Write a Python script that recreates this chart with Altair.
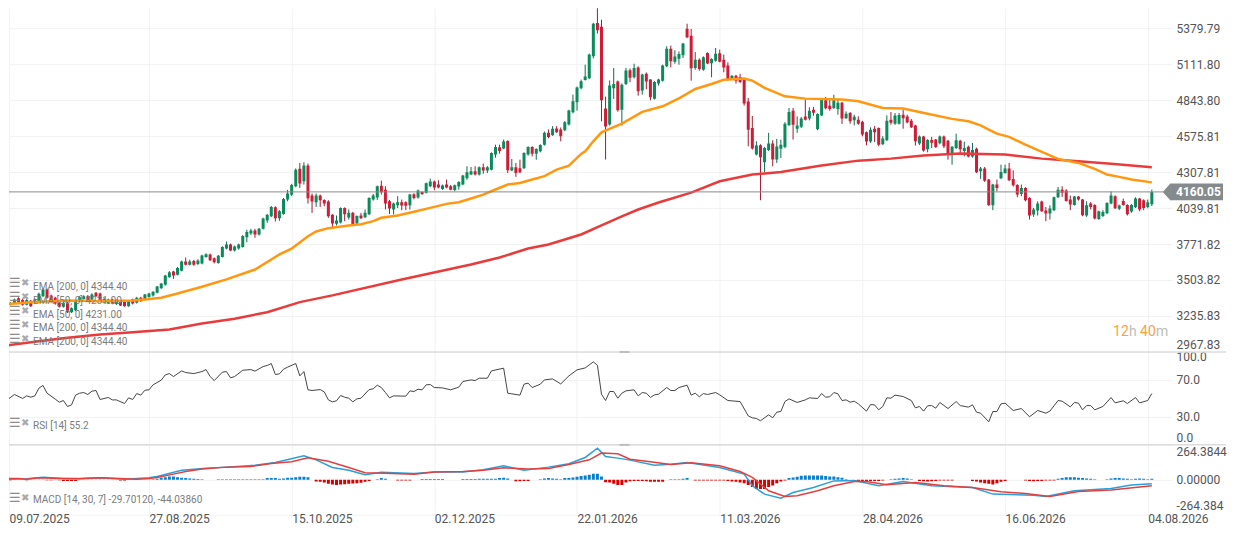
import altair as alt
import pandas as pd

# ---------- data ----------
opens = [
3290,3320,3330,3368,3354,3320,3349,3334,3346,3383,
3433,3388,3371,3334,3304,3334,3264,3279,3346,3363,
3383,3359,3408,3403,3334,3329,3359,3324,3339,3339,
3309,3359,3334,3371,3359,3378,3388,3408,3442,3468,
3527,3567,3542,3572,3641,3617,3646,3622,3626,3676,
3693,3666,3631,3676,3738,3768,3723,3738,3750,3822,
3850,3872,3842,3885,3947,3979,4046,3964,3996,4103,
4138,4202,4333,4240,4356,4133,4083,4133,4100,4088,
3989,3922,3932,4041,3969,4004,3924,3984,3971,3994,
4103,4118,4205,4177,4090,4029,4061,4083,4083,4061,
4143,4118,4160,4153,4202,4237,4215,4182,4215,4202,
4175,4200,4215,4262,4289,4314,4289,4344,4319,4326,
4438,4492,4483,4540,4319,4344,4336,4336,4438,4495,
4445,4463,4512,4600,4582,4632,4625,4619,4662,4753,
4828,4932,4994,5006,5170,5418,5391,4781,4662,4932,
4982,4773,4964,5066,5014,5086,4915,5041,4997,4855,
4967,4989,5096,5227,5130,5153,5178,5376,5324,5083,
5145,5071,5195,5118,5138,5193,5145,5101,5002,5026,
5016,5004,4833,4637,4438,4508,4381,4473,4520,4401,
4482,4495,4658,4765,4631,4646,4721,4706,4773,4626,
4730,4842,4802,4785,4778,4825,4708,4748,4693,4698,
4683,4604,4535,4631,4636,4515,4544,4698,4668,4668,
4735,4721,4691,4654,4520,4572,4477,4547,4550,4522,
4572,4542,4445,4488,4542,4465,4497,4423,4482,4314,
4334,4252,4061,4215,4262,4301,4334,4257,4212,4145,
4190,4115,3991,4021,4088,4021,3999,4024,4120,4177,
4170,4103,4063,4125,4103,3984,4073,4063,3959,3981,
4001,4073,4128,4034,4093,4063,4014,4048,4110,4098,4048,4068]
closes = [
3314,3333,3359,3338,3320,3354,3309,3359,3401,3433,
3371,3344,3329,3304,3334,3264,3294,3346,3376,3383,
3346,3396,3383,3354,3363,3359,3329,3354,3314,3309,
3346,3329,3371,3346,3396,3403,3416,3455,3477,3537,
3562,3537,3594,3641,3617,3641,3617,3649,3686,3696,
3651,3636,3684,3750,3768,3723,3753,3768,3832,3862,
3872,3842,3885,3961,3989,4048,3964,4016,4108,4148,
4212,4326,4222,4356,4113,4088,4133,4098,4073,3979,
3924,3947,4041,3994,4004,3920,3981,3964,4004,4115,
4133,4202,4158,4073,4036,4073,4083,4058,4056,4140,
4115,4170,4143,4225,4237,4192,4192,4207,4192,4177,
4210,4234,4282,4306,4314,4289,4344,4319,4344,4450,
4495,4465,4535,4321,4344,4301,4306,4450,4495,4445,
4480,4510,4600,4570,4630,4604,4575,4679,4766,4835,
4937,4984,5019,5183,5413,5364,4843,4647,4952,4964,
4768,4959,5064,5011,5083,4910,5034,4982,4865,4979,
4997,5101,5227,5133,5168,5188,5265,5312,5081,5145,
5076,5163,5116,5150,5190,5130,5086,5002,5026,4989,
4979,4818,4624,4483,4505,4418,4488,4520,4401,4498,
4512,4668,4755,4661,4654,4706,4698,4765,4750,4740,
4847,4783,4778,4842,4825,4706,4743,4686,4720,4668,
4587,4535,4624,4604,4512,4557,4691,4676,4730,4733,
4708,4678,4641,4537,4572,4468,4547,4527,4495,4572,
4500,4445,4497,4544,4477,4487,4423,4472,4306,4334,
4244,4061,4215,4190,4309,4334,4247,4210,4140,4190,
4098,3984,4029,4073,4016,3999,4036,4120,4177,4153,
4093,4066,4125,4103,3986,4061,4048,3962,4016,4011,
4078,4133,4038,4058,4063,3994,4063,4110,4029,4041,4083,4160]
highs = [
3322,3340,3365,3375,3362,3365,3355,3365,3410,3440,
3440,3395,3378,3340,3345,3340,3300,3352,3385,3390,
3392,3405,3415,3410,3370,3365,3365,3360,3345,3345,
3352,3365,3378,3378,3400,3408,3420,3460,3482,3542,
3570,3572,3600,3648,3671,3655,3654,3658,3692,3702,
3700,3672,3690,3755,3790,3775,3760,3775,3838,3878,
3885,3885,3892,3968,3995,4055,4053,4024,4115,4175,
4220,4335,4375,4381,4371,4148,4148,4140,4105,4098,
3995,3984,4045,4045,4029,4010,3985,4004,4029,4120,
4145,4207,4244,4202,4100,4080,4128,4103,4090,4145,
4150,4177,4165,4230,4259,4245,4247,4215,4252,4212,
4215,4240,4287,4351,4346,4351,4350,4371,4352,4455,
4512,4512,4550,4545,4405,4376,4400,4455,4500,4500,
4485,4515,4610,4625,4650,4650,4640,4688,4772,4885,
4945,4997,5108,5190,5420,5592,5443,4870,4990,5083,
4990,4968,5083,5080,5115,5095,5040,5050,5000,4985,
5003,5108,5245,5250,5215,5207,5270,5413,5374,5202,
5155,5170,5200,5155,5232,5220,5183,5125,5030,5032,
5040,5010,4860,4726,4537,4515,4495,4600,4545,4555,
4550,4680,4785,4785,4723,4718,4847,4790,4793,4745,
4852,4867,4847,4884,4847,4830,4760,4755,4735,4723,
4690,4610,4641,4650,4640,4575,4730,4755,4748,4748,
4773,4735,4703,4660,4580,4578,4552,4570,4555,4580,
4580,4548,4502,4594,4548,4534,4505,4525,4490,4346,
4346,4257,4220,4252,4363,4363,4376,4321,4218,4215,
4195,4120,4041,4090,4095,4048,4060,4125,4197,4202,
4180,4133,4130,4130,4108,4090,4085,4068,4020,4024,
4083,4163,4135,4065,4110,4068,4070,4120,4115,4105,4103,4177]
lows = [
3277,3315,3325,3325,3312,3315,3303,3330,3340,3378,
3365,3335,3320,3298,3298,3258,3258,3272,3340,3358,
3340,3352,3378,3348,3328,3325,3323,3318,3310,3305,
3305,3322,3328,3340,3350,3372,3380,3404,3438,3462,
3520,3512,3538,3568,3612,3612,3610,3616,3620,3670,
3645,3627,3625,3672,3732,3718,3716,3730,3745,3785,
3840,3818,3835,3880,3930,3972,3940,3945,3990,4090,
4130,4195,4190,4215,4073,4004,4048,4048,4053,3967,
3895,3910,3925,3942,3954,3915,3918,3958,3965,3988,
4095,4100,4140,4029,3995,3992,4040,4024,4024,4029,
4105,4110,4140,4148,4195,4172,4187,4175,4187,4172,
4165,4177,4210,4250,4285,4282,4282,4295,4300,4320,
4415,4445,4478,4300,4315,4272,4300,4330,4430,4425,
4400,4455,4505,4560,4578,4600,4537,4612,4655,4745,
4765,4925,4990,5000,5155,5340,4686,4401,4654,4853,
4758,4654,4955,4977,5005,4877,4885,4925,4843,4848,
4952,4982,5090,5088,5115,5108,5158,5305,4989,5070,
5063,5063,5112,5014,5130,5125,5051,4990,4995,4967,
4970,4803,4500,4475,4432,4098,4307,4465,4351,4376,
4413,4485,4650,4550,4600,4636,4692,4693,4728,4620,
4725,4775,4765,4778,4735,4666,4703,4668,4656,4660,
4574,4507,4525,4532,4500,4510,4540,4661,4660,4662,
4631,4672,4636,4505,4510,4460,4455,4487,4487,4515,
4487,4400,4363,4480,4450,4425,4418,4415,4300,4257,
4235,4056,4024,4165,4255,4296,4240,4200,4120,4128,
4090,3954,3974,3984,4010,3942,3954,4018,4115,4123,
4088,4024,4058,4095,3979,3974,4030,3955,3952,3974,
3995,4068,4032,4025,4058,3984,4005,4040,4016,4024,4038,4055]

ema50_k = [0,7,15,23,31,34,38,42,48,54,61,67,70,72,74,76,79,84,87,90,92,96,100,104,108,111,114,117,120,123,
           126,129,132,135,138,141,142,144,146,151,156,161,165,169,173,176,181,183,186,191,196,205,209,215,220,
           226,232,236,239,241,243,246,250,255,258,263,267,270,273,276,281]
ema50 = [3324,3339,3351,3346,3351,3359,3371,3403,3453,3508,3582,3694,3738,3783,3830,3865,3890,3910,3919,3942,
         3967,3984,4012,4041,4071,4083,4111,4140,4178,4215,4227,4252,4277,4326,4356,4443,4463,4537,4604,4669,
         4756,4798,4857,4927,4964,4996,5004,4989,4935,4872,4855,4848,4835,4786,4781,4743,4704,4686,4656,4624,
         4594,4570,4513,4446,4406,4376,4332,4289,4272,4252,4231]
ema200_k = [0,7,15,23,31,40,48,56,64,72,80,97,114,121,128,133,141,146,151,155,160,168,175,183,190,200,209,217,
            225,234,245,254,263,271,281]
ema200 = [3016,3044,3074,3098,3115,3135,3180,3215,3264,3339,3389,3508,3619,3671,3738,3768,3843,3910,3977,4029,
          4081,4155,4239,4289,4309,4356,4393,4408,4431,4446,4438,4408,4388,4369,4344]

rsi_k = [0,2,4,5,6,7,8,9,10,12,13,14,15,16,17,18,19,20,21,22,23,25,26,27,29,30,31,32,33,34,35,36,38,39,40,41,43,44,
         46,48,49,50,51,53,54,55,56,58,60,61,63,64,65,66,67,68,69,71,72,73,74,75,77,78,79,80,81,82,83,84,85,86,87,
         89,90,91,92,93,94,95,98,99,100,101,102,103,104,105,107,109,111,112,114,115,116,118,119,122,123,124,126,127,
         128,129,131,132,134,136,138,140,142,144,145,146,147,148,149,150,151,152,154,155,156,157,158,159,160,162,163,
         164,165,167,168,169,170,171,172,174,175,177,180,182,183,184,185,187,188,189,190,191,192,194,196,197,199,200,
         201,202,203,204,205,206,207,208,209,211,212,213,214,215,216,217,218,220,222,223,224,225,226,227,228,229,231,
         233,234,236,237,238,239,241,242,243,244,245,247,249,251,253,255,256,258,259,261,262,263,264,265,266,267,269,
         271,272,274,275,277,278,280,281]
rsi = [47.7,54.2,49.9,52.7,51.3,52.7,61,63.9,55.6,49.2,45.9,47.7,41.3,43,53.5,55.6,56.3,54.2,57.8,58.5,48.8,51,48.4,
       48.4,44.5,50.6,48.8,55.2,53.5,58.8,59.2,64.6,69.6,75.3,76.7,73.5,79.6,77.8,76.7,78.9,81,73.5,69.2,78.2,78.9,
       72.1,73.5,80.3,81,79.3,84.3,85.4,87.5,75.7,76.4,81.4,83.6,87.5,74.2,78.9,59.2,58.5,59.5,57,48.4,46.3,47.4,
       53.1,51.3,50.2,46.3,49.5,50.2,59.5,60.3,64.2,61.7,56.3,50.6,52.7,52.4,58.1,57.4,59.9,59.2,64.6,64.9,61.7,
       61.3,59.2,62.1,68.2,69.9,69.2,71.7,71.7,79.6,82.5,55.6,54.9,53.5,65.3,66.4,61.7,65.3,69.9,71,65.6,74.2,80.7,
       82.8,89.3,85.7,54.5,47.7,57.4,57.4,50.2,55.6,58.1,59.2,52.7,56.3,55.6,51,53.8,54.5,61.7,58.5,58.5,61.7,64.2,
       53.5,55.6,51.7,55.2,54.2,56.3,53.8,47.7,46.6,31.2,29.1,28.4,25.9,32.3,29.1,35.2,35.9,46.6,49.5,45.6,48.4,50.6,
       49.9,55.2,51.3,51.7,56.3,54.9,47.7,48.4,45.9,47,44.1,36.3,43.4,43,37.7,41.3,50.6,50.2,53.5,52,47.7,39.8,41.3,
       36.3,42,42.3,39.5,45.6,39.1,46.6,42.3,40.6,43.1,35.2,34.1,24.8,35.9,35.9,44.1,44.9,37,39.1,30.2,37,34.1,36.3,
       47.7,47,40.9,45.6,44.9,37.7,42.3,42.3,37.7,41.3,50.9,45.2,47.4,44.5,50.9,45.2,47.7,55.2]

signal_k = [0,3,5,8,13,18,23,28,32,35,37,41,44,48,54,60,65,70,74,79,84,88,93,100,105,112,117,122,128,133,138,143,146,
            150,153,158,163,168,175,180,183,187,191,194,199,203,208,211,216,223,230,237,244,250,256,263,271,281]
signal = [10,10,5,15,10,8,15,10,5,10,18,43,63,81,96,101,123,136,166,141,93,53,50,43,60,63,73,91,81,86,116,151,202,
          197,156,136,116,129,106,63,18,-83,-126,-121,-83,-45,-13,-13,-38,-20,-45,-58,-91,-103,-126,-88,-76,-44]
macd_k = [0,5,9,14,18,23,29,35,37,43,49,54,61,66,73,76,80,84,88,92,100,105,112,117,122,127,133,138,142,145,147,150,
          153,159,163,167,175,181,183,186,190,193,198,203,208,214,220,227,237,242,252,255,262,271,276,281]
macd = [5,8,20,10,10,15,5,15,25,73,88,96,111,131,181,151,93,73,38,58,48,60,60,76,106,73,96,121,169,239,176,164,149,
        111,118,131,93,43,-45,-108,-139,-96,-58,-8,-5,-45,-13,-45,-58,-108,-116,-126,-83,-66,-40,-30]
hist = [
-3,-3,3,3,3,-3,3,3,3,3,
-3,-3,3,-3,-8,-8,-8,-8,2,2,
2,2,2,2,2,2,2,2,-6,-6,
2,2,2,2,3,3,5,8,15,20,
25,25,20,15,13,10,8,6,5,0,
0,0,5,5,5,5,5,5,5,5,
5,5,5,5,13,13,13,8,10,15,
15,20,23,23,20,0,-13,-15,-20,-30,
-35,-40,-35,-33,-30,-28,-25,-23,-15,-8,
0,5,13,8,0,0,-6,-6,-6,-6,
0,0,6,6,6,6,6,6,0,0,
0,0,6,6,6,6,8,8,8,8,
8,13,15,10,0,-10,-10,-8,-8,0,
0,5,10,13,10,8,5,13,13,18,
23,28,33,38,45,45,25,-18,-20,-30,
-40,-40,-20,-10,-8,-8,-8,-10,-15,-15,
-15,-15,0,5,5,5,8,13,0,-5,
-5,-5,-5,-5,-5,-5,-6,-8,-13,-15,
-20,-25,-40,-55,-70,-70,-70,-55,-43,-25,
-13,-5,13,18,23,30,33,33,33,33,
33,28,25,25,20,15,5,0,0,-8,
-8,-10,-8,-8,-8,-5,0,5,8,10,
13,10,5,0,-8,-10,-13,-10,-8,-5,
-5,-5,-5,0,0,0,0,-8,-13,-20,
-25,-30,-35,-25,-15,-8,0,0,0,0,
-5,-8,-10,-8,-8,-5,-5,-5,8,13,
20,20,20,15,13,10,8,5,0,0,
5,10,13,13,10,8,5,8,10,8,5,8]

price_ticks = [5379.79,5111.80,4843.80,4575.81,4307.81,4039.81,3771.82,3503.82,3235.83,2967.83]
last_price = 4160.05
rsi_ticks = [100,70,30,0]
macd_ticks = [264.3844,0,-264.3844]
date_labels = ["09.07.2025","27.08.2025","15.10.2025","02.12.2025","22.01.2026","11.03.2026","28.04.2026","16.06.2026","04.08.2026"]
date_ticks = [0.66,35,70,105,140,175,210,245,280]
ema_legends = ["EMA [200, 0] 4344.40","EMA [50, 0] 4231.00","EMA [50, 0] 4231.00","EMA [200, 0] 4344.40","EMA [200, 0] 4344.40"]
ema_legend_y = [278.7,292.7,306.7,320.3,334.3]

# ---------- layout / style ----------
W = 1164
FONT = "Roboto"
GRID = "#f2f2f2"
LABEL = "#555555"
SEP = "#dcdcdc"
UP, DOWN = "#0b8a5c", "#cf1b36"
UPW, DOWNW = "#0f6b4a", "#a31a30"
x_scale = alt.Scale(domain=[0.66, 285.96], nice=False, zero=False, padding=0)

def xenc(labels=False):
    expr = "[" + ",".join(f"'{d}'" for d in date_labels) + "][round(datum.index*8)]"
    kw = dict(labelAlign="left", labelFont=FONT, labelFontSize=12, labelColor=LABEL, labelPadding=-1,
              labelExpr=expr, labelOverlap=False) if labels else dict(labels=False)
    return alt.X("k:Q", scale=x_scale, title=None,
                 axis=alt.Axis(values=date_ticks, grid=True, gridColor=GRID, ticks=False, domain=False, **kw))

def yenc(field, ticks, domain, fmt=None, expr=None, flush_offset=0):
    kw = {"labelExpr": expr} if expr else {"format": fmt}
    return alt.Y(field + ":Q", title=None, scale=alt.Scale(domain=domain, nice=False, zero=False, padding=0),
                 axis=alt.Axis(orient="right", values=ticks, grid=True, gridColor=GRID, ticks=False, domain=False,
                               labelFont=FONT, labelFontSize=12, labelColor=LABEL, labelPadding=4,
                               labelFlush=True, labelFlushOffset=flush_offset, labelOverlap=False, **kw))

def label_layer(texts, ys, xpos, color, size=10, font=FONT, weight="normal"):
    d = pd.DataFrame({"t": texts, "py": ys})
    return alt.Chart(d).mark_text(align="left", baseline="middle", font=font, fontSize=size, fontWeight=weight,
                                  color=color, clip=False).encode(
        x=alt.value(xpos), y=alt.Y("py:Q", scale=None, axis=None), text="t:N")

def separator(color=SEP):
    return alt.Chart(pd.DataFrame({"a": [0]})).mark_rule(color=color, strokeWidth=1.5).encode(
        x=alt.value(0), x2=alt.value(1218), y=alt.value(0))

def handle():
    return alt.Chart(pd.DataFrame({"a": [0]})).mark_rule(color="#bdbdbd", strokeWidth=2).encode(
        x=alt.value(611), x2=alt.value(621), y=alt.value(0))

def icons(ys):
    return [
        label_layer(["☰"] * len(ys), ys, 0, "#8c8c8c", size=13, font="DejaVu Sans", weight="bold"),
        label_layer(["✖"] * len(ys), ys, 12, "#aaaaaa", size=10, font="DejaVu Sans"),
    ]

# ---------- price panel ----------
k = list(range(len(closes)))
cdf = pd.DataFrame({"k": k, "o": opens, "c": closes, "h": highs, "l": lows})
price_domain = [2967.83, 5528.6]
ypx = yenc("l", price_ticks, price_domain, fmt=".2f")
is_up = "datum.c >= datum.o"
base = alt.Chart(cdf)

wicks = base.mark_rule(strokeWidth=1, clip=True).encode(
    x=xenc(), y=ypx, y2="h:Q",
    color=alt.condition(is_up, alt.value(UPW), alt.value(DOWNW)))
bodies = base.transform_calculate(top="max(datum.o,datum.c)", bot="min(datum.o,datum.c)").mark_bar(size=3, clip=True).encode(
    x=xenc(), y=yenc("bot", price_ticks, price_domain, fmt=".2f"), y2="top:Q",
    color=alt.condition(is_up, alt.value(UP), alt.value(DOWN)))
line200 = alt.Chart(pd.DataFrame({"k": ema200_k, "v": ema200})).mark_line(color="#e93b3b", strokeWidth=2.5, clip=True).encode(
    x=xenc(), y=yenc("v", price_ticks, price_domain, fmt=".2f"))
line50 = alt.Chart(pd.DataFrame({"k": ema50_k, "v": ema50})).mark_line(color="#ff9810", strokeWidth=2.5, clip=True).encode(
    x=xenc(), y=yenc("v", price_ticks, price_domain, fmt=".2f"))
lp = pd.DataFrame({"v": [last_price], "t": [f"{last_price:.2f}"],
                   "lo": [last_price - 63], "hi": [last_price + 63]})
yv = yenc("v", price_ticks, price_domain, fmt=".2f")
last_line = alt.Chart(lp).mark_rule(color="#8a8a8a", strokeWidth=1).encode(x=alt.value(0), x2=alt.value(1157), y=yv)
tag_box = alt.Chart(lp).mark_rect(color="#858b8d").encode(
    x=alt.value(1162), x2=alt.value(1215),
    y=yenc("lo", price_ticks, price_domain, fmt=".2f"), y2="hi:Q")
tag_tip = alt.Chart(lp).mark_point(shape="M-0.45,0 L0.45,-1 L0.45,1 Z", size=280, filled=True, color="#858b8d", opacity=1).encode(
    x=alt.value(1158.5), y=yv)
tag_txt = alt.Chart(lp).mark_text(align="left", baseline="middle", font=FONT, fontSize=12, fontWeight="bold", color="white", dx=0).encode(
    x=alt.value(1168), y=yv, text="t:N")

icons_y = [y - 3.3 for y in ema_legend_y]
countdown = [
    label_layer(["12"], [324], 1105, "#f9a43a", size=14),
    label_layer(["h"], [324], 1121, "#bdbdbd", size=14),
    label_layer(["40"], [324], 1132, "#f9a43a", size=14),
    label_layer(["m"], [324], 1148, "#bdbdbd", size=14),
]
price_panel = alt.layer(
    wicks, bodies, line200, line50, last_line, tag_box, tag_tip, tag_txt,
    *icons(icons_y),
    label_layer(ema_legends, ema_legend_y, 24, "#7c7c7c"),
    *countdown,
).properties(width=W, height=344)

# ---------- RSI panel ----------
rsi_panel = alt.layer(
    alt.Chart(pd.DataFrame({"k": rsi_k, "v": rsi})).mark_line(color="#444444", strokeWidth=1, clip=True).encode(
        x=xenc(), y=yenc("v", rsi_ticks, [0, 100], fmt=".1f")),
    separator(), handle(),
    *icons([71.5]),
    label_layer(["RSI [14] 55.2"], [74.5], 24, "#7c7c7c"),
).properties(width=W, height=93)

# ---------- MACD panel ----------
macd_expr = "datum.value>0 ? '264.3844' : datum.value<0 ? '-264.384' : '0.00000'"
macd_domain = [-264.3844, 264.3844]
ym = yenc("v", macd_ticks, macd_domain, expr=macd_expr, flush_offset=-2)
macd_panel = alt.layer(
    alt.Chart(pd.DataFrame({"k": k, "v": hist})).mark_bar(size=3, clip=True).encode(
        x=xenc(True), y=ym,
        color=alt.condition("datum.v >= 0", alt.value("#0a7fc9"), alt.value("#d90000"))),
    alt.Chart(pd.DataFrame({"k": macd_k, "v": macd})).mark_line(color="#2b9fd8", strokeWidth=1.5, clip=True).encode(x=xenc(True), y=ym),
    alt.Chart(pd.DataFrame({"k": signal_k, "v": signal})).mark_line(color="#e2403f", strokeWidth=1.5, clip=True).encode(x=xenc(True), y=ym),
    separator(), handle(),
    *icons([53]),
    label_layer(["MACD [14, 30, 7] -29.70120, -44.03860"], [55.5], 24, "#7c7c7c"),
).properties(width=W, height=70)

chart = alt.vconcat(
    price_panel, rsi_panel, macd_panel, spacing=0, bounds="flush"
).properties(padding=0).configure_view(stroke=None)

chart.save("out.html", embed_options={"renderer": "svg", "actions": False})
